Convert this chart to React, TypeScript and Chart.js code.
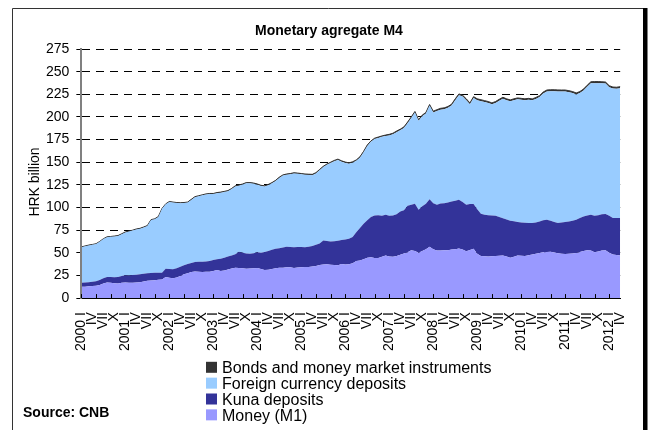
import React, { useEffect, useRef } from 'react';
import { Chart, registerables } from 'chart.js';

Chart.register(...registerables);

// ---- categories -------------------------------------------------------
const years = [2000, 2001, 2002, 2003, 2004, 2005, 2006, 2007, 2008, 2009, 2010, 2011, 2012];
const romanMonths = ['I', 'II', 'III', 'IV', 'V', 'VI', 'VII', 'VIII', 'IX', 'X', 'XI', 'XII'];
const monthsInLastYear = 4;
const labelEvery = 3;
const tickMarkEvery = 4;

const categories: string[] = [];
years.forEach((y, yi) => {
  const n = yi === years.length - 1 ? monthsInLastYear : 12;
  for (let m = 0; m < n; m++) categories.push(m === 0 ? `${y} I` : romanMonths[m]);
});

// ---- series (HRK billion) --------------------------------------------
const money = [
  12.4, 12.6, 13.0, 13.2, 13.5, 14.5, 16.0, 17.2, 16.8, 16.3, 16.1, 17.0,
  17.2, 16.8, 17.0, 17.2, 17.6, 18.4, 19.0, 19.4, 19.6, 20.1, 20.5, 23.4,
  22.4, 21.9, 22.8, 24.5, 26.3, 27.5, 28.9, 29.3, 29.0, 28.8, 29.0, 29.2,
  30.0, 31.0, 29.9, 30.5, 31.5, 32.6, 33.6, 33.2, 32.8, 32.5, 32.6, 33.0,
  33.2, 32.0, 31.0, 31.3, 32.0, 32.8, 33.4, 33.6, 33.9, 34.0, 33.2, 33.8,
  34.0, 34.2, 34.3, 34.8, 35.5, 36.4, 37.0, 37.3, 36.8, 36.4, 36.2, 37.5,
  37.0, 37.3, 38.5, 40.9, 41.5, 43.0, 44.6, 45.0, 44.2, 44.2, 45.5, 47.1,
  46.0, 45.7, 46.5, 47.8, 49.3, 50.5, 52.9, 52.0, 50.0, 52.0, 53.8, 56.6,
  54.0, 52.6, 52.5, 52.8, 52.9, 53.5, 54.0, 54.8, 53.5, 51.8, 53.0, 54.5,
  49.0, 46.4, 46.2, 46.0, 46.1, 46.4, 46.8, 47.1, 46.0, 44.6, 45.6, 47.1,
  46.6, 46.5, 47.2, 48.2, 48.9, 49.8, 50.5, 51.0, 51.2, 50.2, 49.5, 49.0,
  48.8, 49.0, 49.3, 49.8, 50.8, 51.9, 52.9, 52.5, 50.7, 51.5, 52.5, 52.9,
  50.0, 48.2, 47.5, 47.1,
];

const kunaDeposits = [
  4.6, 4.7, 4.6, 4.8, 5.0, 5.5, 5.8, 6.2, 6.4, 6.7, 7.3, 7.5,
  8.0, 8.2, 8.4, 8.6, 8.7, 8.4, 8.3, 8.4, 8.5, 7.9, 7.6, 9.1,
  9.6, 9.9, 10.2, 10.0, 9.9, 10.0, 9.9, 10.5, 11.0, 11.4, 11.5, 11.7,
  12.0, 12.0, 13.6, 14.0, 14.3, 14.5, 14.9, 18.0, 17.2, 16.8, 16.4, 16.5,
  17.3, 18.0, 19.8, 20.7, 21.3, 21.7, 21.6, 22.2, 22.7, 22.3, 22.8, 22.7,
  22.4, 22.0, 22.3, 22.7, 23.3, 23.9, 26.5, 25.7, 25.7, 26.4, 27.2, 26.5,
  27.6, 28.2, 29.0, 31.8, 35.9, 39.0, 41.4, 44.5, 47.1, 47.3, 45.5, 44.9,
  45.0, 45.6, 46.0, 47.9, 47.7, 51.4, 50.1, 52.1, 47.5, 49.5, 50.3, 52.6,
  50.8, 50.4, 52.0, 52.0, 52.6, 53.0, 53.5, 53.7, 52.5, 51.2, 51.0, 49.3,
  49.0, 46.7, 45.8, 45.5, 45.1, 44.5, 42.7, 40.9, 40.8, 40.9, 39.2, 36.9,
  36.9, 36.7, 35.8, 34.7, 34.6, 34.7, 35.3, 35.6, 34.3, 33.8, 33.4, 34.5,
  35.2, 35.5, 36.2, 36.7, 37.7, 38.1, 38.3, 39.5, 40.2, 40.0, 40.0, 39.9,
  41.0, 40.2, 40.9, 41.3,
];

const foreignCurrencyDeposits = [
  39.1, 39.8, 40.5, 40.8, 41.1, 42.1, 43.3, 43.8, 44.4, 45.1, 45.2, 46.1,
  47.3, 48.5, 49.1, 50.0, 50.2, 51.2, 52.2, 58.3, 58.9, 61.5, 70.4, 71.0,
  74.0, 73.6, 71.9, 70.2, 68.7, 67.9, 69.6, 71.6, 72.4, 73.2, 73.9, 74.0,
  72.8, 72.8, 72.8, 72.6, 72.2, 73.2, 74.8, 72.9, 75.3, 77.5, 77.8, 76.8,
  74.7, 73.7, 72.4, 72.7, 73.4, 74.7, 77.7, 79.4, 79.6, 80.4, 81.6, 80.7,
  80.2, 79.9, 79.3, 78.2, 78.8, 80.8, 81.1, 84.1, 86.6, 88.3, 89.1, 86.6,
  84.6, 82.8, 82.0, 78.8, 77.6, 79.0, 82.0, 83.0, 84.2, 85.3, 87.0, 87.0,
  88.6, 89.5, 90.7, 89.6, 90.8, 91.2, 95.8, 100.7, 98.2, 99.3, 99.7, 103.3,
  100.0, 103.5, 103.5, 103.7, 104.5, 106.0, 111.0, 115.4, 116.5, 115.5, 110.0, 117.1,
  120.4, 124.3, 124.4, 123.9, 122.7, 124.5, 128.4, 132.1, 131.6, 131.7, 133.6, 135.4,
  135.4, 135.2, 135.9, 135.4, 136.4, 137.4, 140.1, 141.5, 142.9, 144.4, 145.3, 144.6,
  144.0, 142.8, 140.8, 138.3, 137.8, 139.1, 142.1, 145.1, 146.4, 145.8, 144.6, 144.0,
  141.8, 142.9, 142.7, 143.3,
];

const bondsAndMoneyMarket = [
  0.4, 0.4, 0.4, 0.4, 0.4, 0.4, 0.4, 0.4, 0.4, 0.4, 0.4, 0.4,
  0.5, 0.5, 0.5, 0.5, 0.5, 0.5, 0.5, 0.5, 0.5, 0.5, 0.5, 0.5,
  0.6, 0.6, 0.6, 0.6, 0.6, 0.6, 0.6, 0.6, 0.6, 0.6, 0.6, 0.6,
  0.7, 0.7, 0.7, 0.7, 0.7, 0.7, 0.7, 0.7, 0.7, 0.7, 0.7, 0.7,
  0.8, 0.8, 0.8, 0.8, 0.8, 0.8, 0.8, 0.8, 0.8, 0.8, 0.8, 0.8,
  0.9, 0.9, 0.9, 0.9, 0.9, 0.9, 0.9, 0.9, 0.9, 0.9, 0.9, 0.9,
  1.0, 1.0, 1.0, 1.0, 1.0, 1.0, 1.0, 1.0, 1.0, 1.0, 1.0, 1.0,
  1.2, 1.2, 1.2, 1.2, 1.2, 1.2, 1.2, 1.2, 1.2, 1.2, 1.2, 1.2,
  1.5, 1.5, 1.5, 1.5, 1.5, 1.5, 1.5, 1.5, 1.5, 1.5, 1.5, 1.5,
  1.6, 1.6, 1.6, 1.6, 1.6, 1.6, 1.6, 1.6, 1.6, 1.6, 1.6, 1.6,
  1.6, 1.6, 1.6, 1.6, 1.6, 1.6, 1.6, 1.6, 1.6, 1.6, 1.6, 1.6,
  1.7, 1.7, 1.7, 1.7, 1.7, 1.7, 1.7, 1.7, 1.7, 1.7, 1.7, 1.7,
  1.7, 1.7, 1.7, 1.7,
];

const yTickStep = 25;
const yMax = 275;

const FONT = '"Liberation Sans", Arial, Helvetica, sans-serif';
const TITLE = 'Monetary agregate M4';
const Y_TITLE = 'HRK billion';
const SOURCE = 'Source: CNB';

const W = 651;
const H = 430;

const decorPlugin = {
  id: 'decor',
  afterDraw(chart: any) {
    const ctx = chart.ctx as CanvasRenderingContext2D;
    const area = chart.chartArea;
    const xs = chart.scales.x;
    ctx.save();

    // frame
    ctx.strokeStyle = '#333333';
    ctx.lineWidth = 1;
    ctx.beginPath();
    ctx.moveTo(12.5, H);
    ctx.lineTo(12.5, 8.5);
    ctx.lineTo(644, 8.5);
    ctx.stroke();
    ctx.fillStyle = '#000000';
    ctx.fillRect(643, 8, 4.5, H - 8);

    // title
    ctx.fillStyle = '#000000';
    ctx.font = `bold 14px ${FONT}`;
    ctx.textAlign = 'center';
    ctx.textBaseline = 'alphabetic';
    ctx.fillText(TITLE, 329, 35);

    // y axis title
    ctx.save();
    ctx.translate(35, 182);
    ctx.rotate(-Math.PI / 2);
    ctx.font = `14px ${FONT}`;
    ctx.textAlign = 'center';
    ctx.textBaseline = 'middle';
    ctx.fillText(Y_TITLE, 0, 0);
    ctx.restore();

    // x tick marks (inside)
    ctx.strokeStyle = '#000000';
    ctx.lineWidth = 1;
    ctx.beginPath();
    for (let i = 0; i < categories.length; i += tickMarkEvery) {
      const x = Math.round(xs.getPixelForValue(i)) + 0.5;
      ctx.moveTo(x, area.bottom);
      ctx.lineTo(x, area.bottom - 4);
    }
    ctx.stroke();

    // legend (one item per row, top series first)
    const ds = chart.data.datasets.slice().reverse();
    ctx.font = `16px ${FONT}`;
    ctx.textAlign = 'left';
    ctx.textBaseline = 'alphabetic';
    ds.forEach((d: any, i: number) => {
      const cy = 367.3 + i * 15.85;
      ctx.fillStyle = d.backgroundColor;
      ctx.fillRect(206, cy - 5.5, 11, 11);
      ctx.fillStyle = '#000000';
      ctx.fillText(d.label, 222, cy + 5.8);
    });

    // source
    ctx.font = `bold 14px ${FONT}`;
    ctx.fillText(SOURCE, 23, 416.7);
    ctx.restore();
  },
};

export default function App() {
  const ref = useRef<HTMLCanvasElement | null>(null);

  useEffect(() => {
    document.body.style.margin = '0';
    document.body.style.overflow = 'hidden';
    const canvas = ref.current;
    if (!canvas) return;
    const chart = new Chart(canvas, {
      type: 'line',
      data: {
        labels: categories,
        datasets: [
          { label: 'Money (M1)', data: money, backgroundColor: '#9999FF', borderColor: '#9999FF', borderWidth: 0, fill: 'origin', pointRadius: 0, tension: 0 },
          { label: 'Kuna deposits', data: kunaDeposits, backgroundColor: '#333399', borderColor: '#333399', borderWidth: 0, fill: '-1', pointRadius: 0, tension: 0 },
          { label: 'Foreign currency deposits', data: foreignCurrencyDeposits, backgroundColor: '#99CCFF', borderColor: '#99CCFF', borderWidth: 0, fill: '-1', pointRadius: 0, tension: 0 },
          { label: 'Bonds and money market instruments', data: bondsAndMoneyMarket, backgroundColor: '#333333', borderColor: '#333333', borderWidth: 1, fill: '-1', pointRadius: 0, tension: 0 },
        ],
      },
      options: {
        animation: false,
        responsive: false,
        devicePixelRatio: 1,
        layout: { padding: { left: 39, right: 27, top: 49, bottom: 65 } },
        plugins: {
          legend: { display: false },
          tooltip: { enabled: false },
          title: { display: false },
        },
        scales: {
          x: {
            type: 'category',
            grid: { display: true, drawOnChartArea: false, drawTicks: false },
            border: { display: true, color: '#000000', width: 1, z: 1 },
            ticks: {
              autoSkip: false,
              minRotation: 90,
              maxRotation: 90,
              padding: 14,
              color: '#000000',
              font: { family: FONT, size: 14 },
              callback: (_v: any, i: number) => (i % labelEvery === 0 ? categories[i] : null),
            },
          },
          y: {
            stacked: true,
            min: 0,
            max: yMax,
            ticks: { stepSize: yTickStep, padding: 7, color: '#000000', font: { family: FONT, size: 14 } },
            grid: { color: '#000000', lineWidth: 1, drawTicks: true, tickLength: 5, tickColor: '#000000', tickBorderDash: [] },
            border: { display: true, color: '#808080', width: 2, dash: [8, 6], z: 1 },
          },
        },
      },
      plugins: [decorPlugin],
    } as any);
    return () => chart.destroy();
  }, []);

  return (
    <div style={{ width: W, height: H }}>
      <canvas ref={ref} width={W} height={H} style={{ display: 'block' }} />
    </div>
  );
}
